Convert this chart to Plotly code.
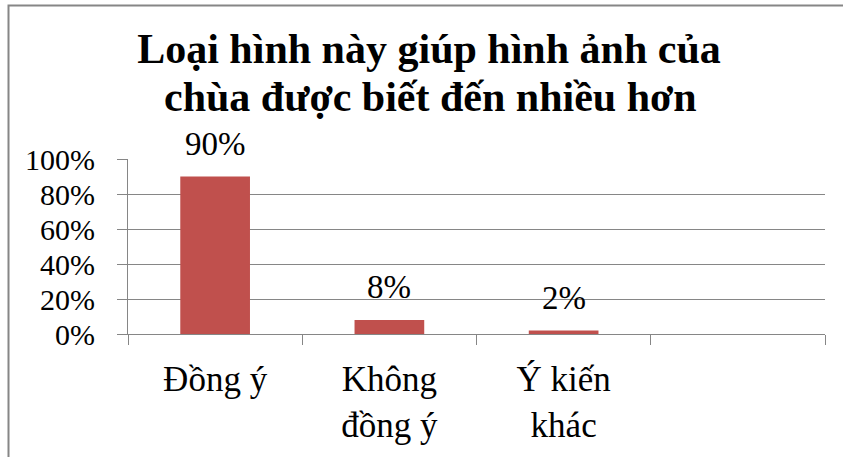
import plotly.graph_objects as go

categories = ["Đồng ý", "Không<br>đồng ý", "Ý kiến<br>khác", " "]
values = [0.90, 0.08, 0.02, None]
value_labels = ["90%", "8%", "2%", ""]
y_ticks = [0, 0.2, 0.4, 0.6, 0.8, 1.0]
title_lines = ["Loại hình này giúp hình ảnh của", "chùa được biết đến nhiều hơn"]

GRAY = "#868686"
RED = "#C0504D"
FONT = "Liberation Serif, Times New Roman, Tinos, DejaVu Serif, serif"

W, H = 843, 457
L, R, T, B = 128, 18, 159, 123
pw = W - L - R
ph = H - T - B

fig = go.Figure()
fig.add_trace(go.Bar(
    x=categories, y=values,
    marker=dict(color=RED, line=dict(width=0)),
    hoverinfo="skip",
))

for c, v, t in zip(categories, values, value_labels):
    if v is None:
        continue
    fig.add_annotation(x=c, y=v, text=t, showarrow=False, xref="x", yref="y",
                       yanchor="bottom", yshift=13,
                       font=dict(family=FONT, size=33, color="black"))

# second title line (kept separate to match the tight line spacing)
fig.add_annotation(x=(430 - L) / pw, xref="paper", xanchor="center",
                   y=(H - B - 122) / ph, yref="paper", yanchor="bottom",
                   text="<b>" + title_lines[1] + "</b>", showarrow=False,
                   font=dict(family=FONT, size=42, color="black"))

fig.add_shape(type="rect", xref="paper", yref="paper",
              x0=(8.5 - L) / pw, x1=(W + 10 - L) / pw,
              y0=-(H + 10 - (H - B)) / ph, y1=((H - B) - 5.5) / ph,
              line=dict(color=GRAY, width=2), layer="below")

fig.update_layout(
    width=W, height=H,
    margin=dict(l=L, r=R, t=T, b=B, pad=0),
    paper_bgcolor="white", plot_bgcolor="white",
    bargap=0.6,
    showlegend=False,
    font=dict(family=FONT, color="black"),
    title=dict(text="<b>" + title_lines[0] + "</b>", x=429 / W, xanchor="center",
               y=1 - 34 / H, yanchor="top", yref="container",
               font=dict(family=FONT, size=42, color="black")),
    xaxis=dict(type="category", categoryorder="array", categoryarray=categories,
               tickson="boundaries", ticks="outside", ticklen=10, tickwidth=1,
               tickcolor=GRAY, showline=True, linecolor=GRAY, linewidth=1,
               showgrid=False, ticklabelstandoff=14,
               tickfont=dict(family=FONT, size=35, color="black")),
    yaxis=dict(range=[0, 1], tickvals=y_ticks, tickformat=".0%",
               ticks="outside", ticklen=10, tickwidth=1, tickcolor=GRAY,
               showline=True, linecolor=GRAY, linewidth=1,
               showgrid=True, gridcolor=GRAY, gridwidth=1, zeroline=False,
               ticklabelstandoff=16,
               tickfont=dict(family=FONT, size=30, color="black")),
)

fig.write_html("out.html", config={"displayModeBar": False},
               post_script="document.body.style.margin='0';")
